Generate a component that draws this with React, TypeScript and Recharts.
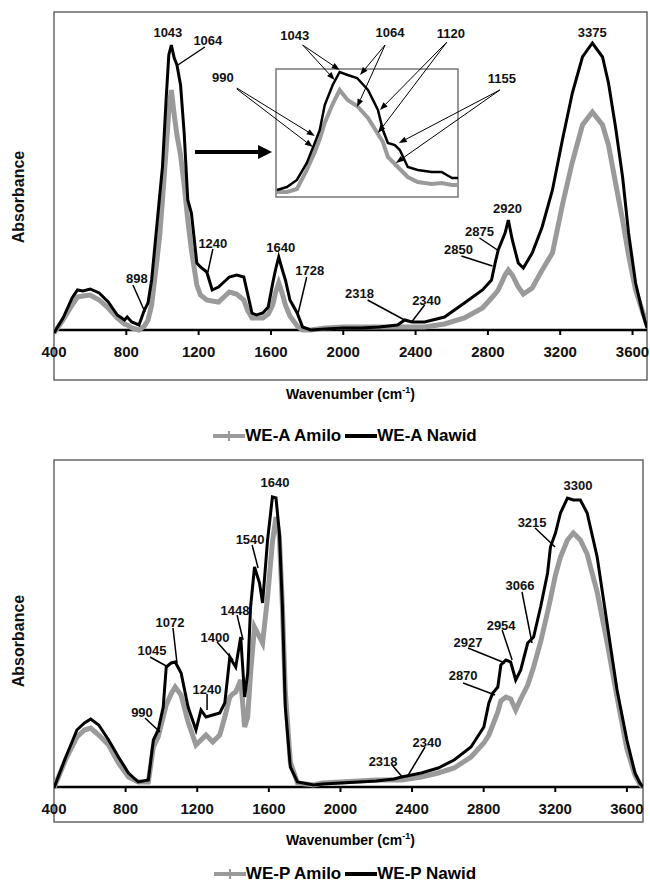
import React from 'react';
import { LineChart, Line, XAxis, YAxis, ReferenceLine, ReferenceArea, ReferenceDot } from 'recharts';

const FONT = '"Liberation Sans", Arial, Helvetica, sans-serif';

const xTicks = [400, 800, 1200, 1600, 2000, 2400, 2800, 3200, 3600];

const topSeriesNames = ['WE-A Amilo', 'WE-A Nawid'];
const bottomSeriesNames = ['WE-P Amilo', 'WE-P Nawid'];

// WE-A spectra (top panel)
const topWavenumbers = [
  400, 450, 500, 530, 560, 600, 650, 700, 750, 790,
  805, 830, 870, 900, 920, 940, 965, 985, 1000, 1020,
  1035, 1049, 1065, 1080, 1100, 1120, 1140, 1160, 1190, 1210,
  1245, 1275, 1310, 1340, 1370, 1410, 1450, 1470, 1495, 1520,
  1555, 1585, 1610, 1625, 1643, 1660, 1680, 1705, 1745, 1775,
  1820, 1900, 2000, 2100, 2200, 2300, 2340, 2380, 2450, 2560,
  2670, 2770, 2820, 2840, 2857, 2895, 2913, 2935, 2968, 2996,
  3045, 3100, 3157, 3212, 3267, 3323, 3378, 3434, 3467, 3506,
  3545, 3578, 3617, 3656, 3680,
];
const topAmilo = [
  -0.03, 0.10, 0.25, 0.33, 0.34, 0.35, 0.30, 0.22, 0.12, 0.06,
  0.05, 0.02, 0.00, 0.04, 0.10, 0.25, 0.63, 0.95, 1.30, 1.80,
  2.20, 2.40, 2.15, 1.95, 1.75, 1.45, 1.10, 0.80, 0.45, 0.35,
  0.30, 0.29, 0.28, 0.33, 0.38, 0.36, 0.30, 0.20, 0.12, 0.12,
  0.12, 0.16, 0.25, 0.37, 0.47, 0.38, 0.25, 0.14, 0.04, 0.00,
  0.00, 0.02, 0.03, 0.03, 0.03, 0.03, 0.03, 0.03, 0.03, 0.06,
  0.12, 0.22, 0.32, 0.36, 0.40, 0.55, 0.60, 0.55, 0.43, 0.36,
  0.42, 0.60, 0.77, 1.25, 1.68, 2.05, 2.18, 2.05, 1.85, 1.47,
  1.10, 0.75, 0.40, 0.18, 0.05,
];
const topNawid = [
  -0.03, 0.12, 0.32, 0.40, 0.39, 0.41, 0.37, 0.28, 0.15, 0.10,
  0.13, 0.08, 0.05, 0.20, 0.27, 0.50, 0.97, 1.35, 1.63, 2.30,
  2.75, 2.85, 2.72, 2.65, 2.45, 1.97, 1.30, 1.17, 0.67, 0.63,
  0.58, 0.40, 0.43, 0.48, 0.53, 0.55, 0.53, 0.37, 0.17, 0.15,
  0.17, 0.23, 0.47, 0.60, 0.73, 0.62, 0.50, 0.30, 0.17, 0.03,
  0.00, 0.01, 0.02, 0.02, 0.03, 0.05, 0.10, 0.08, 0.08, 0.13,
  0.27, 0.40, 0.50, 0.67, 0.80, 0.97, 1.10, 0.90, 0.67, 0.62,
  0.77, 1.03, 1.40, 1.90, 2.37, 2.73, 2.87, 2.73, 2.47, 2.03,
  1.53, 0.97, 0.47, 0.17, 0.02,
];

// magnified 990-1155 region of WE-A (inset)
const insetWavenumbers = [
  914, 934, 954, 974, 990, 1000, 1010, 1026, 1040, 1056, 1075, 1097,
  1117, 1127, 1137, 1151, 1161, 1177, 1197, 1225, 1245, 1266, 1278,
];
const insetAmilo = [
  0.05, 0.05, 0.08, 0.27, 0.45, 0.58, 0.74, 0.93, 1.07, 0.97, 0.91, 0.79,
  0.63, 0.55, 0.40, 0.33, 0.28, 0.20, 0.15, 0.13, 0.14, 0.12, 0.12,
];
const insetNawid = [
  0.07, 0.10, 0.17, 0.34, 0.54, 0.67, 0.92, 1.12, 1.25, 1.22, 1.19, 1.07,
  0.87, 0.67, 0.54, 0.52, 0.47, 0.30, 0.27, 0.25, 0.25, 0.19, 0.19,
];

// WE-P spectra (bottom panel)
const bottomWavenumbers = [
  400, 466, 528, 570, 605, 650, 705, 760, 816, 871,
  927, 955, 982, 1010, 1027, 1054, 1077, 1110, 1149, 1193,
  1221, 1249, 1287, 1326, 1354, 1382, 1398, 1415, 1443, 1465,
  1482, 1498, 1520, 1548, 1565, 1593, 1620, 1640, 1659, 1676,
  1692, 1720, 1760, 1850, 1900, 2000, 2100, 2200, 2300, 2341,
  2452, 2546, 2635, 2729, 2801, 2829, 2851, 2879, 2896, 2924,
  2951, 2979, 3007, 3046, 3079, 3118, 3157, 3173, 3201, 3229,
  3268, 3301, 3340, 3378, 3434, 3489, 3545, 3600, 3645, 3672,
  3690,
];
const bottomAmilo = [
  -0.01, 0.28, 0.50, 0.57, 0.59, 0.52, 0.42, 0.24, 0.10, 0.05,
  0.05, 0.40, 0.50, 0.70, 0.82, 0.93, 1.00, 0.92, 0.65, 0.42,
  0.47, 0.52, 0.45, 0.52, 0.70, 0.90, 0.93, 0.95, 1.07, 0.60,
  0.70, 1.14, 1.60, 1.50, 1.44, 1.90, 2.45, 2.70, 2.50, 1.80,
  0.95, 0.25, 0.04, 0.02, 0.04, 0.05, 0.06, 0.07, 0.07, 0.07,
  0.10, 0.14, 0.19, 0.30, 0.44, 0.52, 0.62, 0.75, 0.86, 0.90,
  0.88, 0.77, 0.88, 1.02, 1.20, 1.45, 1.75, 1.88, 2.12, 2.30,
  2.47, 2.54, 2.47, 2.33, 1.95, 1.45, 0.90, 0.38, 0.12, 0.03,
  0.00,
];
const bottomNawid = [
  -0.01, 0.30, 0.57, 0.64, 0.68, 0.62, 0.47, 0.30, 0.14, 0.05,
  0.07, 0.47, 0.57, 0.80, 1.20, 1.24, 1.25, 1.14, 0.80, 0.57,
  0.77, 0.70, 0.72, 0.74, 0.84, 1.30, 1.25, 1.20, 1.50, 0.90,
  1.14, 1.80, 2.20, 2.04, 1.84, 2.47, 2.90, 2.89, 2.54, 1.80,
  0.80, 0.20, 0.05, 0.02, 0.03, 0.04, 0.05, 0.06, 0.08, 0.10,
  0.14, 0.19, 0.27, 0.40, 0.60, 0.84, 0.94, 1.00, 1.22, 1.27,
  1.25, 1.07, 1.17, 1.44, 1.50, 1.80, 2.14, 2.40, 2.54, 2.74,
  2.89, 2.87, 2.87, 2.74, 2.30, 1.64, 0.97, 0.47, 0.14, 0.04,
  0.00,
];

type Row = { x: number; amilo: number; nawid: number };
const toRows = (xs: number[], a: number[], n: number[]): Row[] =>
  xs.map((x, i) => ({ x, amilo: a[i], nawid: n[i] }));

// peak labels: tip on the curve, text / leader end offsets in px
type Note = { label: string; at: number; value: number; tx: number; ty: number; lx?: number; ly?: number };

const topNotes: Note[] = [
  { label: '1043', at: 1052, value: 2.85, tx: -4, ty: -13 },
  { label: '1064', at: 1085, value: 2.65, tx: 30, ty: -25, lx: 27, ly: -18 },
  { label: '1240', at: 1251, value: 0.58, tx: 5, ty: -29, lx: 5, ly: -23 },
  { label: '1640', at: 1643, value: 0.73, tx: 2, ty: -10 },
  { label: '1728', at: 1748, value: 0.15, tx: 12, ty: -45, lx: 9, ly: -38 },
  { label: '898', at: 903, value: 0.18, tx: -8, ty: -34, lx: -12, ly: -27 },
  { label: '2920', at: 2908, value: 1.10, tx: 0, ty: -12 },
  { label: '2875', at: 2853, value: 0.80, tx: -18, ty: -19, lx: -18, ly: -12 },
  { label: '2850', at: 2825, value: 0.64, tx: -34, ty: -17, lx: -31, ly: -10 },
  { label: '2318', at: 2339, value: 0.10, tx: -45, ty: -27, lx: -37, ly: -20 },
  { label: '2340', at: 2378, value: 0.08, tx: 15, ty: -22, lx: 13, ly: -17 },
  { label: '3375', at: 3372, value: 2.87, tx: 1, ty: -11 },
];

const bottomNotes: Note[] = [
  { label: '1640', at: 1640, value: 2.89, tx: -1, ty: -16 },
  { label: '1540', at: 1540, value: 2.19, tx: -8, ty: -29, lx: -6, ly: -23 },
  { label: '1448', at: 1456, value: 1.47, tx: -8, ty: -30, lx: -6, ly: -25 },
  { label: '1400', at: 1400, value: 1.27, tx: -18, ty: -23, lx: -16, ly: -18 },
  { label: '1072', at: 1087, value: 1.24, tx: -7, ty: -41, lx: -4, ly: -35 },
  { label: '1045', at: 1037, value: 1.20, tx: -16, ty: -17, lx: -18, ly: -10 },
  { label: '1240', at: 1255, value: 0.77, tx: 0, ty: -21, lx: 0, ly: -16 },
  { label: '990', at: 992, value: 0.55, tx: -18, ty: -20, lx: -15, ly: -14 },
  { label: '3300', at: 3327, value: 2.87, tx: 0, ty: -15 },
  { label: '3215', at: 3199, value: 2.40, tx: -23, ty: -25, lx: -20, ly: -19 },
  { label: '3066', at: 3070, value: 1.44, tx: -12, ty: -58, lx: -10, ly: -51 },
  { label: '2954', at: 2959, value: 1.27, tx: -11, ty: -35, lx: -10, ly: -30 },
  { label: '2927', at: 2919, value: 1.24, tx: -37, ty: -21, lx: -37, ly: -15 },
  { label: '2870', at: 2864, value: 0.92, tx: -32, ty: -20, lx: -32, ly: -12 },
  { label: '2340', at: 2372, value: 0.10, tx: 20, ty: -35, lx: 18, ly: -30 },
  { label: '2318', at: 2350, value: 0.09, tx: -20, ty: -17, lx: -11, ly: -13 },
];

type Tip = { at: number; value: number; dx: number; dy: number };
const insetNotes: { label: string; tx: number; ty: number; tips: Tip[] }[] = [
  { label: '990', tx: -92, ty: -59, tips: [{ at: 990, value: 0.61, dx: -78, dy: -48 }, { at: 986, value: 0.50, dx: -76, dy: -58 }] },
  { label: '1043', tx: -45, ty: -35, tips: [{ at: 1040, value: 1.27, dx: -37, dy: -25 }, { at: 1030, value: 1.17, dx: -32, dy: -35 }] },
  { label: '1064', tx: 30, ty: -43, tips: [{ at: 1081, value: 1.22, dx: 25, dy: -30 }, { at: 1075, value: 0.90, dx: 28, dy: -62 }] },
  { label: '1120', tx: 71, ty: -77, tips: [{ at: 1121, value: 0.87, dx: 67, dy: -68 }, { at: 1117, value: 0.64, dx: 69, dy: -91 }] },
  { label: '1155', tx: 103, ty: -65, tips: [{ at: 1159, value: 0.54, dx: 101, dy: -53 }, { at: 1153, value: 0.34, dx: 104, dy: -73 }] },
];

const labelText = (x: number, y: number, s: string, size = 13) => (
  <text x={x} y={y} textAnchor="middle" dominantBaseline="central" fontSize={size}
    fontWeight="bold" fontFamily={FONT} fill="#111">{s}</text>
);

const noteShape = (n: Note) => (p: any) => (
  <g>
    {n.lx !== undefined && (
      <line x1={p.cx} y1={p.cy} x2={p.cx + n.lx} y2={p.cy + (n.ly ?? 0)} stroke="#000" strokeWidth={1.5} />
    )}
    {labelText(p.cx + n.tx, p.cy + n.ty, n.label)}
  </g>
);

const arrowShape = (t: Tip, text?: { s: string; tx: number; ty: number }) => (p: any) => {
  const { cx, cy } = p;
  const len = Math.hypot(t.dx, t.dy);
  const ux = t.dx / len;
  const uy = t.dy / len;
  const hx = cx + ux * 8;
  const hy = cy + uy * 8;
  return (
    <g>
      <line x1={hx} y1={hy} x2={cx + t.dx} y2={cy + t.dy} stroke="#000" strokeWidth={1} />
      <polygon points={`${cx},${cy} ${hx - uy * 3},${hy + ux * 3} ${hx + uy * 3},${hy - ux * 3}`} fill="#000" />
      {text && labelText(cx + text.tx, cy + text.ty, text.s)}
    </g>
  );
};

const bigArrow = (p: any) => (
  <g>
    <line x1={p.x1} y1={p.y1} x2={p.x2 - 12} y2={p.y2} stroke="#000" strokeWidth={4} />
    <polygon points={`${p.x2},${p.y2} ${p.x2 - 14},${p.y2 - 7} ${p.x2 - 14},${p.y2 + 7}`} fill="#000" />
  </g>
);

type PanelProps = {
  rows: Row[];
  names: string[];
  plotHeight: number;
  xMax: number;
  right: number;
  yDomain: [number, number];
  notes: Note[];
  extra?: React.ReactNode;
};

const AXIS_H = 30;

const Panel = ({ rows, names, plotHeight, xMax, right, yDomain, notes, extra }: PanelProps) => {
  const top = 12;
  const zeroOffset = (plotHeight * (0 - yDomain[0])) / (yDomain[1] - yDomain[0]);

  // axis crosses at zero, so ticks are drawn up from the plot bottom
  const renderTick = (props: any) => {
    const { x, y, payload } = props;
    const zy = y - zeroOffset;
    return (
      <g>
        {payload.value > 400 && <line x1={x} y1={zy} x2={x} y2={zy + 5} stroke="#000" strokeWidth={2} />}
        {labelText(x, zy + 21, String(payload.value), 15)}
      </g>
    );
  };

  return (
    <LineChart width={650} height={top + plotHeight + AXIS_H} margin={{ top, right, bottom: 0, left: 0 }}>
      <XAxis dataKey="x" type="number" domain={[400, xMax]} ticks={xTicks} interval={0}
        allowDataOverflow height={AXIS_H} axisLine={false} tickLine={false} tickSize={0} tickMargin={0} tick={renderTick} />
      <YAxis type="number" domain={yDomain} allowDataOverflow width={54} tick={false} axisLine={false} tickLine={false} />
      <ReferenceArea x1={400} x2={xMax} y1={yDomain[0]} y2={yDomain[1]} ifOverflow="visible"
        fill="none" fillOpacity={0} stroke="#666" strokeWidth={1.5} />
      <ReferenceLine y={0} stroke="#000" strokeWidth={2.5} />
      <Line data={rows} dataKey="amilo" name={names[0]} type="linear" dot={false}
        stroke="#9a9a9a" strokeWidth={5} isAnimationActive={false} />
      <Line data={rows} dataKey="nawid" name={names[1]} type="linear" dot={false}
        stroke="#000" strokeWidth={3} isAnimationActive={false} />
      {notes.map((n) => (
        <ReferenceDot key={n.label + n.at} x={n.at} y={n.value} r={0} ifOverflow="visible" shape={noteShape(n)} />
      ))}
      {extra}
    </LineChart>
  );
};

const Inset = () => {
  const rows = toRows(insetWavenumbers, insetAmilo, insetNawid);
  return (
    <LineChart width={345} height={182} margin={{ top: 49, right: 72, bottom: 5, left: 91 }}>
      <XAxis dataKey="x" type="number" domain={[912, 1278]} allowDataOverflow hide />
      <YAxis type="number" domain={[0, 1.28]} allowDataOverflow hide />
      <ReferenceArea x1={912} x2={1278} y1={0} y2={1.28} ifOverflow="visible"
        fill="#fff" fillOpacity={0} stroke="#777" strokeWidth={1.5} />
      <Line data={rows} dataKey="amilo" type="linear" dot={false} stroke="#9a9a9a" strokeWidth={4} isAnimationActive={false} />
      <Line data={rows} dataKey="nawid" type="linear" dot={false} stroke="#000" strokeWidth={2.5} isAnimationActive={false} />
      {insetNotes.flatMap((n) =>
        n.tips.map((t, i) => (
          <ReferenceDot key={n.label + i} x={t.at} y={t.value} r={0} ifOverflow="visible"
            shape={arrowShape(t, i === 0 ? { s: n.label, tx: n.tx, ty: n.ty } : undefined)} />
        )),
      )}
    </LineChart>
  );
};

const LegendRow = ({ top, names }: { top: number; names: string[] }) => (
  <div style={{ position: 'absolute', top, left: 0, width: 650, display: 'flex', justifyContent: 'center',
    alignItems: 'center', fontFamily: FONT, fontWeight: 'bold', fontSize: 17, lineHeight: '20px', paddingLeft: 40, boxSizing: 'border-box' }}>
    <svg width={32} height={12}>
      <line x1={0} y1={6} x2={32} y2={6} stroke="#9a9a9a" strokeWidth={4} />
      <line x1={16} y1={1} x2={16} y2={11} stroke="#9a9a9a" strokeWidth={2} />
    </svg>
    <span style={{ marginRight: 4 }}>{names[0]}</span>
    <svg width={32} height={12}>
      <line x1={0} y1={6} x2={32} y2={6} stroke="#000" strokeWidth={4} />
    </svg>
    <span>{names[1]}</span>
  </div>
);

const AxisTitle = ({ top }: { top: number }) => (
  <div style={{ position: 'absolute', top, left: 54, width: 593, textAlign: 'center', fontFamily: FONT,
    fontWeight: 'bold', fontSize: 14, lineHeight: '16px' }}>
    Wavenumber (cm<sup style={{ fontSize: 9, lineHeight: 0 }}>-1</sup>)
  </div>
);

export default function App() {
  const topRows = toRows(topWavenumbers, topAmilo, topNawid);
  const bottomRows = toRows(bottomWavenumbers, bottomAmilo, bottomNawid);

  return (
    <div style={{ position: 'absolute', left: 0, top: 0, width: 650, height: 890, background: '#fff', overflow: 'hidden' }}>
      <div style={{ position: 'absolute', left: 0, top: 0 }}>
        <Panel rows={topRows} names={topSeriesNames} plotHeight={368} xMax={3680} right={3}
          yDomain={[-0.5, 3.18]} notes={topNotes}
          extra={
            <ReferenceLine segment={[{ x: 1180, y: 1.78 }, { x: 1606, y: 1.78 }]} ifOverflow="visible" shape={bigArrow} />
          } />
      </div>
      <div style={{ position: 'absolute', left: 185, top: 20 }}>
        <Inset />
      </div>
      <div style={{ position: 'absolute', left: 0, top: 448 }}>
        <Panel rows={bottomRows} names={bottomSeriesNames} plotHeight={362} xMax={3690} right={7}
          yDomain={[-0.35, 3.27]} notes={bottomNotes} />
      </div>
      <svg width={650} height={890} style={{ position: 'absolute', left: 0, top: 0, pointerEvents: 'none' }}>
        {['top', 'bottom'].map((k, i) => {
          const cy = i === 0 ? 197 : 641;
          return (
            <text key={k} x={18} y={cy} transform={`rotate(-90, 18, ${cy})`} textAnchor="middle"
              dominantBaseline="central" fontSize={16} fontWeight="bold" fontFamily={FONT} fill="#111">
              Absorbance
            </text>
          );
        })}
      </svg>
      <AxisTitle top={386} />
      <LegendRow top={426} names={topSeriesNames} />
      <AxisTitle top={832} />
      <LegendRow top={864} names={bottomSeriesNames} />
    </div>
  );
}
